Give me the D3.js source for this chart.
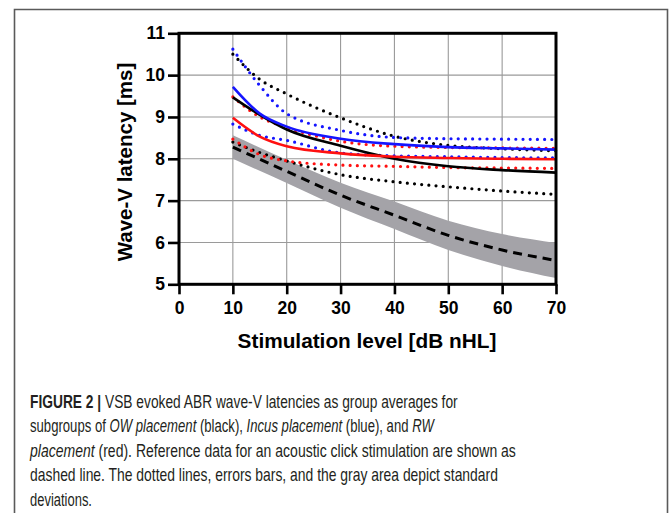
<!DOCTYPE html>
<html>
<head>
<meta charset="utf-8">
<script src="https://cdn.jsdelivr.net/npm/d3@7"></script>
<style>
  body { margin: 0; background: #fff; }
  svg { display: block; }
</style>
</head>
<body>
<svg id="graph" width="669" height="513"></svg>
<script>
// values (latency in ms)
var levels = [10, 15, 20, 30, 40, 50, 60, 70];

var owMean  = [9.47, 9.05, 8.70, 8.31, 8.00, 7.82, 7.73, 7.67];
var owUpper = [10.50, 9.90, 9.55, 8.98, 8.54, 8.32, 8.24, 8.19];
var owLower = [8.40, 8.15, 7.95, 7.62, 7.45, 7.33, 7.23, 7.15];

var incMean  = [9.72, 9.08, 8.77, 8.48, 8.35, 8.28, 8.25, 8.22];
var incUpper = [10.62, 9.75, 9.08, 8.68, 8.51, 8.48, 8.47, 8.46];
var incLower = [8.83, 8.56, 8.44, 8.14, 8.07, 8.05, 8.03, 8.02];

var rwMean  = [8.98, 8.53, 8.30, 8.13, 8.05, 8.02, 8.00, 7.99];
var rwUpper = [9.48, 9.00, 8.75, 8.42, 8.30, 8.27, 8.26, 8.25];
var rwLower = [8.47, 8.10, 7.95, 7.85, 7.82, 7.79, 7.78, 7.77];

var refLevels = [10, 20, 30, 40, 50, 60, 70];
var refMean   = [8.28, 7.70, 7.13, 6.65, 6.17, 5.82, 5.57];
var refSd     = [0.28, 0.28, 0.30, 0.33, 0.35, 0.38, 0.42];

var xTicks = [0, 10, 20, 30, 40, 50, 60, 70];
var yTicks = [5, 6, 7, 8, 9, 10, 11];

var captionLines = [
  [["FIGURE 2 | ", "b"], ["VSB evoked ABR wave-V latencies as group averages for", ""]],
  [["subgroups of ", ""], ["OW placement", "i"], [" (black), ", ""], ["Incus placement", "i"], [" (blue), and ", ""], ["RW", "i"]],
  [["placement", "i"], [" (red). Reference data for an acoustic click stimulation are shown as", ""]],
  [["dashed line. The dotted lines, errors bars, and the gray area depict standard", ""]],
  [["deviations.", ""]]
];
var captionWidths = [428, 404, 486, 468, 62];

var svg = d3.select("#graph");

// outer frame of the figure
svg.append("path")
   .attr("d", "M14.5,513 L14.5,9.5 L667.5,9.5 L667.5,513")
   .attr("fill", "none")
   .attr("stroke", "#5a5a5a")
   .attr("stroke-width", 1.6);

var x = d3.scaleLinear().domain([0, 70]).range([179, 556]);
var y = d3.scaleLinear().domain([5, 11]).range([284.3, 33.3]);

// grid
svg.append("g").selectAll("line")
   .data(xTicks.slice(1, -1))
   .enter().append("line")
   .attr("x1", function(d) { return x(d); })
   .attr("x2", function(d) { return x(d); })
   .attr("y1", y(5)).attr("y2", y(11))
   .attr("stroke", "#9a9a9a").attr("stroke-width", 1.1);

svg.append("g").selectAll("line")
   .data(yTicks.slice(1, -1))
   .enter().append("line")
   .attr("y1", function(d) { return y(d); })
   .attr("y2", function(d) { return y(d); })
   .attr("x1", x(0)).attr("x2", x(70))
   .attr("stroke", "#9a9a9a").attr("stroke-width", 1.1);

// reference band
var refData = refLevels.map(function(l, i) { return {l: l, m: refMean[i], s: refSd[i]}; });

svg.append("path")
   .datum(refData)
   .attr("fill", "#a4a3a8")
   .attr("d", d3.area()
     .x(function(d) { return x(d.l); })
     .y0(function(d) { return y(d.m - d.s); })
     .y1(function(d) { return y(d.m + d.s); })
     .curve(d3.curveMonotoneX));

function draw(values, color, style) {
  var pts = levels.map(function(l, i) { return [l, values[i]]; });
  var p = svg.append("path")
     .datum(pts)
     .attr("fill", "none")
     .attr("stroke", color)
     .attr("d", d3.line()
       .x(function(d) { return x(d[0]); })
       .y(function(d) { return y(d[1]); })
       .curve(d3.curveMonotoneX));
  if (style == "dot") {
    p.attr("stroke-width", 3.2)
     .attr("stroke-linecap", "round")
     .attr("stroke-dasharray", "0,7.2");
  } else {
    p.attr("stroke-width", 2.6);
  }
}

draw(owUpper, "#000", "dot");
draw(owLower, "#000", "dot");
draw(incUpper, "#1515ff", "dot");
draw(incLower, "#1515ff", "dot");
draw(rwUpper, "#ff1010", "dot");
draw(rwLower, "#ff1010", "dot");

svg.append("path")
   .datum(refData)
   .attr("fill", "none")
   .attr("stroke", "#000")
   .attr("stroke-width", 3)
   .attr("stroke-dasharray", "9,6")
   .attr("d", d3.line()
     .x(function(d) { return x(d.l); })
     .y(function(d) { return y(d.m); })
     .curve(d3.curveMonotoneX));

draw(owMean, "#000", "solid");
draw(rwMean, "#ff1010", "solid");
draw(incMean, "#1515ff", "solid");

// plot border
svg.append("rect")
   .attr("x", x(0)).attr("y", y(11))
   .attr("width", x(70) - x(0))
   .attr("height", y(5) - y(11))
   .attr("fill", "none")
   .attr("stroke", "#000")
   .attr("stroke-width", 3);

// axes
var yAxis = svg.append("g")
   .attr("transform", "translate(" + x(0) + ",0)")
   .call(d3.axisLeft(y).tickValues(yTicks).tickFormat(d3.format("d")).tickSize(11).tickPadding(3));

var xAxis = svg.append("g")
   .attr("transform", "translate(0," + y(5) + ")")
   .call(d3.axisBottom(x).tickValues(xTicks).tickFormat(d3.format("d")).tickSize(10).tickPadding(7));

[xAxis, yAxis].forEach(function(a) {
  a.select(".domain").remove();
  a.selectAll(".tick line").attr("stroke", "#000").attr("stroke-width", 2.6);
  a.selectAll(".tick text")
   .attr("fill", "#000")
   .attr("font-family", "'Liberation Sans', Arial, sans-serif")
   .attr("font-weight", "bold")
   .attr("font-size", "17.5px");
});

svg.append("text")
   .attr("x", 367).attr("y", 348)
   .attr("text-anchor", "middle")
   .attr("font-family", "'Liberation Sans', Arial, sans-serif")
   .attr("font-weight", "bold")
   .attr("font-size", "20.8px")
   .text("Stimulation level [dB nHL]");

svg.append("text")
   .attr("transform", "translate(132,162) rotate(-90)")
   .attr("text-anchor", "middle")
   .attr("font-family", "'Liberation Sans', Arial, sans-serif")
   .attr("font-weight", "bold")
   .attr("font-size", "20.5px")
   .text("Wave-V latency [ms]");

// caption: narrow font, each line squeezed to the width seen in the figure
captionLines.forEach(function(line, i) {
  var by = 408 + i * 24.4;
  var g = svg.append("g");
  var t = g.append("text")
     .attr("x", 0)
     .attr("y", 0)
     .attr("fill", "#231f20")
     .attr("font-family", "'Liberation Sans Narrow', 'Liberation Sans', Arial, sans-serif")
     .attr("font-size", "18.5px");
  line.forEach(function(part) {
    t.append("tspan")
     .attr("font-weight", part[1] == "b" ? "bold" : "normal")
     .attr("font-style", part[1] == "i" ? "italic" : "normal")
     .text(part[0]);
  });
  var w = t.node().getComputedTextLength();
  g.attr("transform", "translate(30," + by + ") scale(" + (captionWidths[i] / w) + ",1)");
});
</script>
</body>
</html>
